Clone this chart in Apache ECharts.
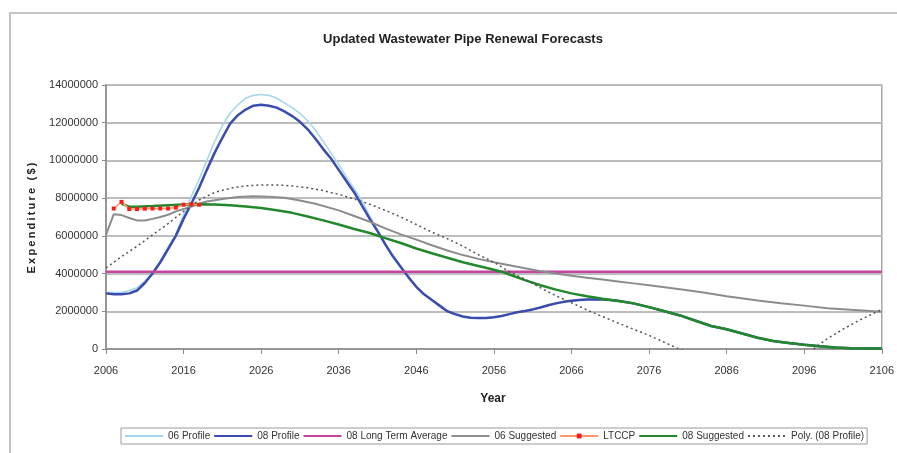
<!DOCTYPE html>
<html>
<head>
<meta charset="utf-8">
<script src="https://cdn.jsdelivr.net/npm/echarts@6/dist/echarts.min.js"></script>
<style>
  html, body { margin: 0; padding: 0; background: #fff; }
  #chart { width: 897px; height: 453px; }
</style>
</head>
<body>
<div id="chart"></div>
<script>
// Wastewater pipe renewal forecasts, values in millions of dollars per year.
const xTickYears = [2006, 2016, 2026, 2036, 2046, 2056, 2066, 2076, 2086, 2096, 2106];

const profile08Years = [2006,2007,2008,2009,2010,2011,2012,2013,2014,2015,2016,2017,2018,2019,2020,2021,2022,2023,2024,2025,2026,2027,2028,2029,2030,2031,2032,2033,2034,2035,2036,2037,2038,2039,2040,2041,2042,2043,2044,2045,2046,2047,2048,2049,2050,2051,2052,2053,2054,2055,2056,2057,2058,2059,2060,2061,2062,2063,2064,2065,2066,2067,2068,2069,2070,2071,2072,2074,2076,2078,2080,2082,2084,2086,2088,2090,2092,2094,2096,2098,2100,2102,2104,2106];
const profile08 = [2.95,2.9,2.9,2.95,3.1,3.5,4.0,4.6,5.3,6.0,6.9,7.7,8.55,9.5,10.4,11.2,11.95,12.4,12.7,12.9,12.95,12.9,12.8,12.6,12.35,12.05,11.65,11.15,10.6,10.1,9.5,8.9,8.3,7.6,6.9,6.25,5.55,4.9,4.35,3.8,3.3,2.9,2.6,2.3,2.0,1.85,1.72,1.66,1.64,1.64,1.68,1.75,1.85,1.95,2.02,2.1,2.2,2.32,2.42,2.5,2.56,2.6,2.62,2.62,2.62,2.6,2.56,2.42,2.22,2.0,1.78,1.5,1.22,1.05,0.82,0.6,0.42,0.32,0.22,0.14,0.08,0.04,0.02,0.02];

const profile06Years = profile08Years;
const profile06 = [3.0,3.0,3.0,3.1,3.25,3.6,4.05,4.65,5.4,6.1,7.1,8.1,9.0,10.0,11.0,11.85,12.5,12.95,13.3,13.45,13.5,13.45,13.3,13.05,12.8,12.5,12.1,11.6,11.0,10.4,9.8,9.1,8.5,7.85,7.05,6.3,5.6,4.95,4.35,3.8,3.3,2.9,2.6,2.3,2.0,1.85,1.72,1.66,1.64,1.64,1.68,1.75,1.85,1.95,2.02,2.1,2.2,2.32,2.42,2.5,2.56,2.6,2.62,2.62,2.62,2.6,2.56,2.42,2.22,2.0,1.78,1.5,1.22,1.05,0.82,0.6,0.42,0.32,0.22,0.14,0.08,0.04,0.02,0.02];

const longTermAvgYears = [2006, 2106];
const longTermAvg = [4.1, 4.1];

const suggested06Years = [2006,2007,2008,2009,2010,2011,2012,2013,2014,2015,2016,2017,2018,2019,2021,2023,2025,2027,2029,2031,2033,2036,2038,2040,2042,2044,2046,2048,2050,2052,2054,2056,2058,2060,2062,2064,2066,2068,2070,2072,2074,2076,2078,2080,2083,2086,2090,2093,2096,2099,2102,2106];
const suggested06 = [6.05,7.15,7.1,6.95,6.82,6.82,6.9,7.0,7.12,7.3,7.42,7.55,7.7,7.82,7.95,8.06,8.1,8.08,8.02,7.88,7.7,7.35,7.05,6.75,6.4,6.08,5.8,5.5,5.22,4.98,4.78,4.6,4.44,4.28,4.13,4.0,3.88,3.78,3.68,3.58,3.48,3.38,3.28,3.17,3.0,2.8,2.57,2.42,2.3,2.16,2.08,1.98];

const ltccpYears = [2007,2008,2009,2010,2011,2012,2013,2014,2015,2016,2017,2018];
const ltccp = [7.45,7.8,7.42,7.42,7.44,7.45,7.45,7.45,7.5,7.65,7.68,7.65];

const suggested08Years = [2008,2009,2010,2012,2014,2016,2018,2020,2022,2024,2026,2028,2030,2032,2034,2036,2038,2040,2042,2044,2046,2048,2050,2052,2054,2056,2057,2058,2060,2062,2064,2066,2068,2070,2072,2074,2076,2078,2080,2082,2084,2086,2088,2090,2092,2094,2096,2098,2100,2102,2104,2106];
const suggested08 = [7.7,7.55,7.55,7.58,7.62,7.66,7.68,7.66,7.62,7.56,7.48,7.36,7.22,7.03,6.82,6.6,6.36,6.15,5.88,5.62,5.33,5.08,4.84,4.6,4.4,4.2,4.1,3.95,3.65,3.38,3.15,2.95,2.8,2.66,2.55,2.42,2.22,2.0,1.78,1.5,1.22,1.05,0.82,0.6,0.42,0.32,0.22,0.14,0.08,0.04,0.02,0.02];

const polyYears = [2006,2008,2010,2012,2014,2016,2018,2020,2022,2024,2026,2028,2030,2032,2034,2036,2038,2040,2042,2044,2046,2048,2050,2052,2054,2056,2058,2060,2062,2064,2066,2068,2070,2072,2074,2076,2078,2080,2084,2088,2092,2095,2097,2099,2101,2103,2106];
const poly = [4.3,4.9,5.45,6.05,6.65,7.3,7.9,8.3,8.52,8.65,8.7,8.7,8.65,8.55,8.4,8.2,7.95,7.68,7.35,7.0,6.6,6.2,5.85,5.45,5.0,4.6,4.1,3.7,3.25,2.82,2.45,2.07,1.72,1.38,1.05,0.72,0.35,-0.02,-0.6,-1.0,-1.05,-0.6,-0.05,0.55,1.05,1.5,2.1];

const pairs = (xs, ys) => xs.map((x, i) => [x, ys[i] * 1e6]);

const FONT = 'Liberation Sans, Arial, sans-serif';

// legend entries: plain line samples, except LTCCP which keeps its marker
const lineOnly = name => ({ name, itemStyle: { opacity: 0 } });

const chart = echarts.init(document.getElementById('chart'), null, { renderer: 'canvas' });

chart.setOption({
  backgroundColor: '#ffffff',
  animation: false,
  textStyle: { fontFamily: FONT },
  title: {
    text: 'Updated Wastewater Pipe Renewal Forecasts',
    left: 458, top: 28, textAlign: 'center',
    textStyle: { fontSize: 13, fontWeight: 'bold', color: '#222', fontFamily: FONT }
  },
  grid: {
    left: 106, right: 13, top: 85, bottom: 104,
    show: true, borderColor: '#a8a8a8', borderWidth: 1.5, backgroundColor: 'transparent'
  },
  legend: {
    left: 121, top: 428,
    padding: [3, 3, 3, 3],
    itemGap: 3, itemWidth: 38, itemHeight: 6,
    borderColor: '#9a9a9a', borderWidth: 1,
    textStyle: { fontSize: 10, color: '#333', fontFamily: FONT },
    data: [
      lineOnly('06 Profile'), lineOnly('08 Profile'), lineOnly('08 Long Term Average'),
      lineOnly('06 Suggested'), { name: 'LTCCP' }, lineOnly('08 Suggested'), lineOnly('Poly. (08 Profile)')
    ]
  },
  xAxis: {
    type: 'value', min: 2006, max: 2106,
    axisLine: { show: true, lineStyle: { color: '#8a8a8a', width: 1.5 } },
    axisTick: { show: true, length: 5, customValues: xTickYears, lineStyle: { color: '#8a8a8a' } },
    axisLabel: { customValues: xTickYears, margin: 16, fontSize: 11, color: '#333', fontFamily: FONT, formatter: v => String(v) },
    splitLine: { show: false }
  },
  yAxis: {
    type: 'value', min: 0, max: 14000000, interval: 2000000,
    axisLine: { show: true, lineStyle: { color: '#8a8a8a', width: 1.5 } },
    axisTick: { show: true, length: 4, lineStyle: { color: '#8a8a8a' } },
    axisLabel: { margin: 8, fontSize: 11, color: '#333', fontFamily: FONT, formatter: v => String(v) },
    splitLine: { show: true, lineStyle: { color: '#bdbdbd', width: 2 } }
  },
  graphic: [
    { type: 'rect', shape: { x: 10, y: 13, width: 900, height: 460 },
      style: { fill: 'none', stroke: '#c4c4c4', lineWidth: 2 }, silent: true },
    { type: 'text', x: 493, y: 399,
      style: { text: 'Year', font: 'bold 12px ' + FONT, fill: '#222', align: 'center', verticalAlign: 'middle' } },
    { type: 'text', x: 32, y: 218, rotation: Math.PI / 2,
      style: { text: 'Expenditure ($)'.split('').join('\u2009'), font: 'bold 11px ' + FONT, fill: '#222', align: 'center', verticalAlign: 'middle' } }
  ],
  series: [
    { name: '06 Profile', type: 'line', symbol: 'none', z: 2,
      data: pairs(profile06Years, profile06), lineStyle: { color: '#a6d8ea', width: 1.6 }, itemStyle: { color: '#a6d8ea' } },
    { name: '08 Profile', type: 'line', symbol: 'none', z: 3,
      data: pairs(profile08Years, profile08), lineStyle: { color: '#3a4cae', width: 2.5 }, itemStyle: { color: '#3a4cae' } },
    { name: '08 Long Term Average', type: 'line', symbol: 'none', z: 3,
      data: pairs(longTermAvgYears, longTermAvg), lineStyle: { color: '#c4449e', width: 2.5 }, itemStyle: { color: '#c4449e' } },
    { name: '06 Suggested', type: 'line', symbol: 'none', z: 3,
      data: pairs(suggested06Years, suggested06), lineStyle: { color: '#8c8c8c', width: 2 }, itemStyle: { color: '#8c8c8c' } },
    { name: '08 Suggested', type: 'line', symbol: 'none', z: 4,
      data: pairs(suggested08Years, suggested08), lineStyle: { color: '#23882c', width: 2.5 }, itemStyle: { color: '#23882c' } },
    { name: 'Poly. (08 Profile)', type: 'line', symbol: 'none', z: 4, clip: true,
      data: pairs(polyYears, poly), lineStyle: { color: '#555555', width: 1.5, type: [2, 3] }, itemStyle: { color: '#555555' } },
    { name: 'LTCCP', type: 'line', symbol: 'rect', symbolSize: 4, z: 5,
      data: pairs(ltccpYears, ltccp), lineStyle: { color: '#ff9a70', width: 1.5 }, itemStyle: { color: '#ff1a1a' } }
  ]
});
</script>
</body>
</html>
